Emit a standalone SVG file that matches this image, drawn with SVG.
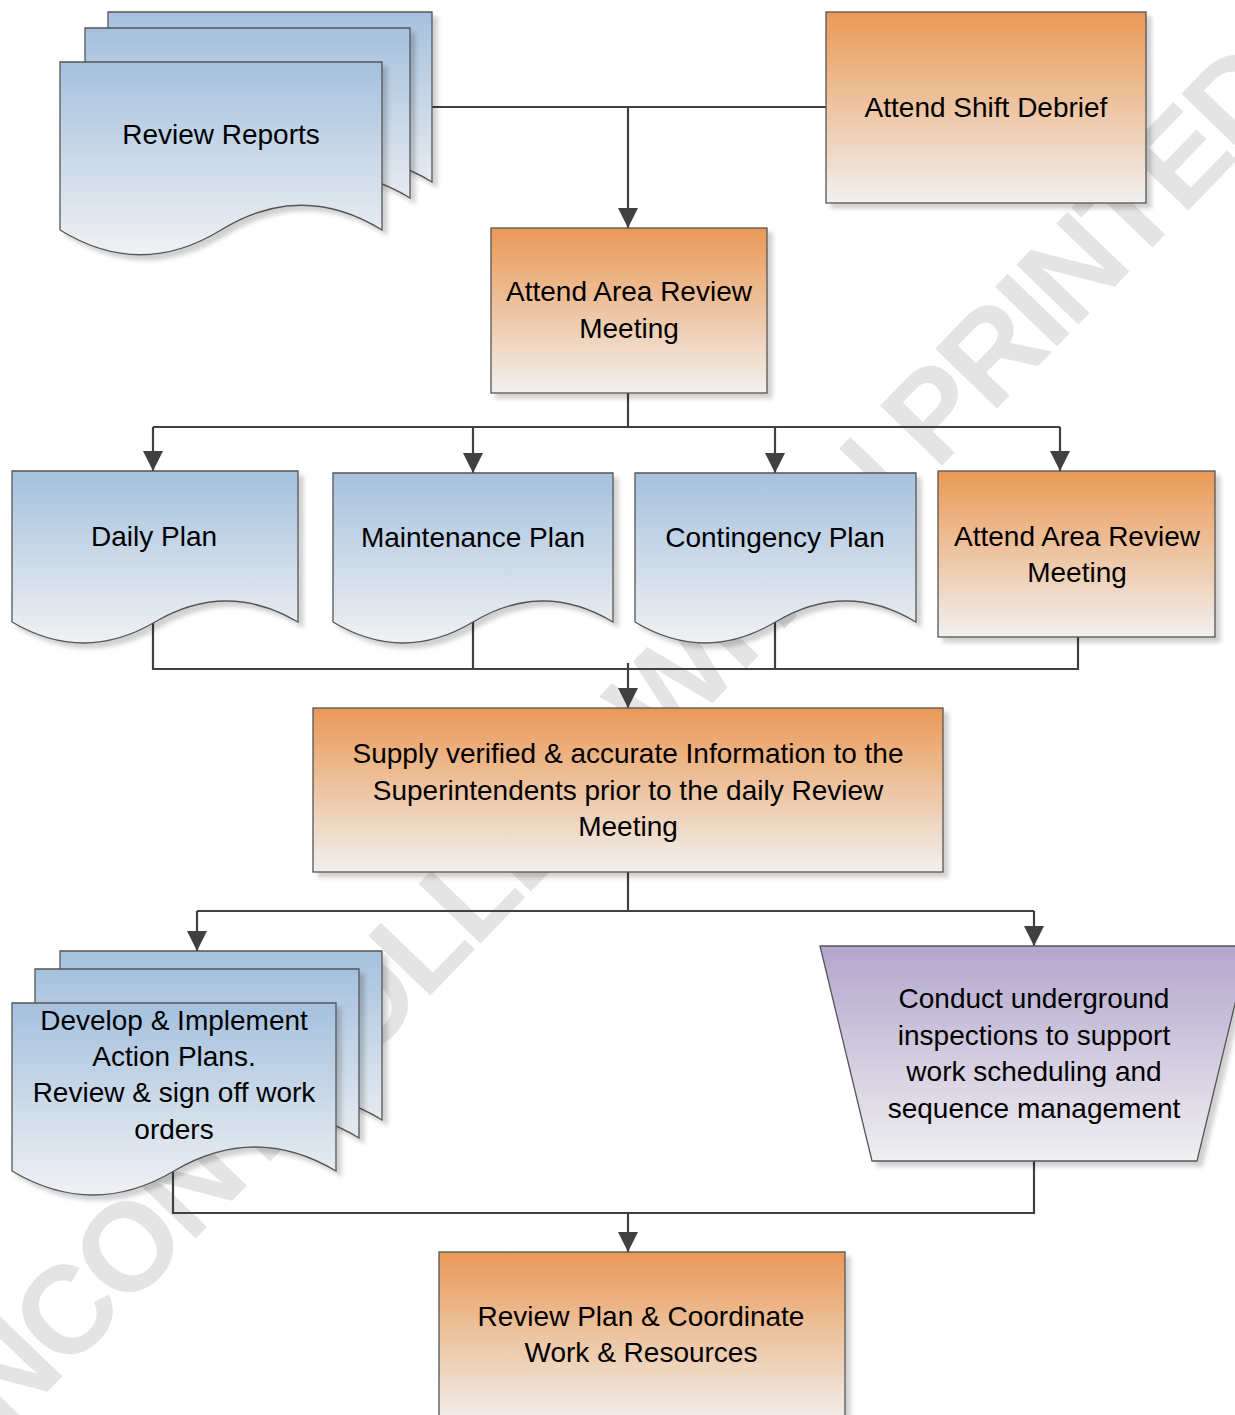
<svg xmlns="http://www.w3.org/2000/svg" width="1235" height="1415" viewBox="0 0 1235 1415">
  <defs>
    <linearGradient id="gBlue" x1="0" y1="0" x2="0" y2="1">
      <stop offset="0" stop-color="#a5c1de"/>
      <stop offset="1" stop-color="#f0f1f3"/>
    </linearGradient>
    <linearGradient id="gOrange" x1="0" y1="0" x2="0" y2="1">
      <stop offset="0" stop-color="#ea9956"/>
      <stop offset="1" stop-color="#f1f0ee"/>
    </linearGradient>
    <linearGradient id="gPurple" x1="0" y1="0" x2="0" y2="1">
      <stop offset="0" stop-color="#b3a6cd"/>
      <stop offset="1" stop-color="#f0eff1"/>
    </linearGradient>
    <filter id="shadow" x="-5%" y="-5%" width="115%" height="120%">
      <feDropShadow dx="5" dy="5" stdDeviation="2" flood-color="#000" flood-opacity="0.18"/>
    </filter>
    <marker id="arrow" markerUnits="userSpaceOnUse" viewBox="0 0 20 20" markerWidth="20" markerHeight="20" refX="20" refY="10" orient="auto">
      <path d="M0,0 L20,10 L0,20 Z" fill="#404040"/>
    </marker>
  </defs>
  <style>
    .shape { stroke: #555; stroke-width: 1.3; filter: url(#shadow); }
    .blue { fill: url(#gBlue); }
    .orange { fill: url(#gOrange); }
    .purple { fill: url(#gPurple); }
    .lbl { font-family: "Liberation Sans", Arial, sans-serif; font-size: 28px; fill: #000; text-anchor: middle; }
    .wire { fill: none; stroke: #404040; stroke-width: 2.2; }
    .wm { font-family: "Liberation Sans", Arial, sans-serif; font-weight: bold; font-size: 125px; fill: #e4e4e4; }
  </style>

  <rect width="1235" height="1415" fill="#fff"/>

  <!-- background watermark -->
  <text class="wm" transform="translate(623,796) rotate(-46)" text-anchor="middle" textLength="1950" lengthAdjust="spacing">UNCONTROLLED WHEN PRINTED</text>

  <!-- connectors -->
  <g id="connectors">
    <path class="wire" d="M432,107 H826"/>
    <path class="wire" d="M628,107 V228" marker-end="url(#arrow)"/>

    <path class="wire" d="M628,393 V427"/>
    <path class="wire" d="M153,427 H1060"/>
    <path class="wire" d="M153,427 V471" marker-end="url(#arrow)"/>
    <path class="wire" d="M473,427 V473" marker-end="url(#arrow)"/>
    <path class="wire" d="M775,427 V473" marker-end="url(#arrow)"/>
    <path class="wire" d="M1060,427 V471" marker-end="url(#arrow)"/>

    <path class="wire" d="M153,622 V669 H1078 V637"/>
    <path class="wire" d="M473,622 V669"/>
    <path class="wire" d="M775,622 V669"/>
    <path class="wire" d="M628,663 V708" marker-end="url(#arrow)"/>

    <path class="wire" d="M628,872 V911"/>
    <path class="wire" d="M197,911 H1034"/>
    <path class="wire" d="M197,911 V951" marker-end="url(#arrow)"/>
    <path class="wire" d="M1034,911 V946" marker-end="url(#arrow)"/>

    <path class="wire" d="M173,1171 V1213 H1034 V1161"/>
    <path class="wire" d="M628,1213 V1252" marker-end="url(#arrow)"/>
  </g>

  <!-- Review Reports (stack of documents) -->
  <g id="review-reports">
    <path class="shape blue" d="M108,12 H432 V182 C378,149 324,149 270,182 C216,215 162,215 108,182 Z"/>
    <path class="shape blue" d="M85,28 H410 V198 C355.8,165 301.7,165 247.5,198 C193.3,231 139.2,231 85,198 Z"/>
    <path class="shape blue" d="M60,62 H382 V230 C328.3,197 274.7,197 221,230 C167.3,263 113.7,263 60,230 Z"/>
    <text class="lbl" x="221" y="144">Review Reports</text>
  </g>

  <!-- Attend Shift Debrief -->
  <g id="attend-shift-debrief">
    <rect class="shape orange" x="826" y="12" width="320" height="191"/>
    <text class="lbl" x="986" y="117">Attend Shift Debrief</text>
  </g>

  <!-- Attend Area Review Meeting -->
  <g id="attend-area-review-1">
    <rect class="shape orange" x="491" y="228" width="276" height="165"/>
    <text class="lbl" x="629" y="301">Attend Area Review</text>
    <text class="lbl" x="629" y="338">Meeting</text>
  </g>

  <!-- Daily Plan -->
  <g id="daily-plan">
    <path class="shape blue" d="M12,471 H298 V622 C250.3,594 202.7,594 155,622 C107.3,650 59.7,650 12,622 Z"/>
    <text class="lbl" x="154" y="546">Daily Plan</text>
  </g>

  <!-- Maintenance Plan -->
  <g id="maintenance-plan">
    <path class="shape blue" d="M333,473 H613 V622 C566.3,594 519.7,594 473,622 C426.3,650 379.7,650 333,622 Z"/>
    <text class="lbl" x="473" y="547">Maintenance Plan</text>
  </g>

  <!-- Contingency Plan -->
  <g id="contingency-plan">
    <path class="shape blue" d="M635,473 H916 V622 C869.2,594 822.3,594 775.5,622 C728.7,650 681.8,650 635,622 Z"/>
    <text class="lbl" x="775" y="547">Contingency Plan</text>
  </g>

  <!-- Attend Area Review Meeting (second) -->
  <g id="attend-area-review-2">
    <rect class="shape orange" x="938" y="471" width="277" height="166"/>
    <text class="lbl" x="1077" y="546">Attend Area Review</text>
    <text class="lbl" x="1077" y="582">Meeting</text>
  </g>

  <!-- Supply information -->
  <g id="supply-information">
    <rect class="shape orange" x="313" y="708" width="630" height="164"/>
    <text class="lbl" x="628" y="763">Supply verified &amp; accurate Information to the</text>
    <text class="lbl" x="628" y="800">Superintendents prior to the daily Review</text>
    <text class="lbl" x="628" y="836">Meeting</text>
  </g>

  <!-- Develop & Implement Action Plans (stack of documents) -->
  <g id="develop-action-plans">
    <path class="shape blue" d="M60,951 H382 V1120 C328.3,1087 274.7,1087 221,1120 C167.3,1153 113.7,1153 60,1120 Z"/>
    <path class="shape blue" d="M35,969 H359 V1138 C305,1105 251,1105 197,1138 C143,1171 89,1171 35,1138 Z"/>
    <path class="shape blue" d="M12,1003 H336 V1171 C282,1139 228,1139 174,1171 C120,1203 66,1203 12,1171 Z"/>
    <text class="lbl" x="174" y="1030">Develop &amp; Implement</text>
    <text class="lbl" x="174" y="1066">Action Plans.</text>
    <text class="lbl" x="174" y="1102">Review &amp; sign off work</text>
    <text class="lbl" x="174" y="1139">orders</text>
  </g>

  <!-- Conduct underground inspections (manual operation) -->
  <g id="conduct-inspections">
    <path class="shape purple" d="M820,946 H1249 L1197,1161 H872 Z"/>
    <text class="lbl" x="1034" y="1008">Conduct underground</text>
    <text class="lbl" x="1034" y="1045">inspections to support</text>
    <text class="lbl" x="1034" y="1081">work scheduling and</text>
    <text class="lbl" x="1034" y="1118">sequence management</text>
  </g>

  <!-- Review Plan & Coordinate -->
  <g id="review-plan">
    <rect class="shape orange" x="439" y="1252" width="406" height="172"/>
    <text class="lbl" x="641" y="1326">Review Plan &amp; Coordinate</text>
    <text class="lbl" x="641" y="1362">Work &amp; Resources</text>
  </g>
</svg>
